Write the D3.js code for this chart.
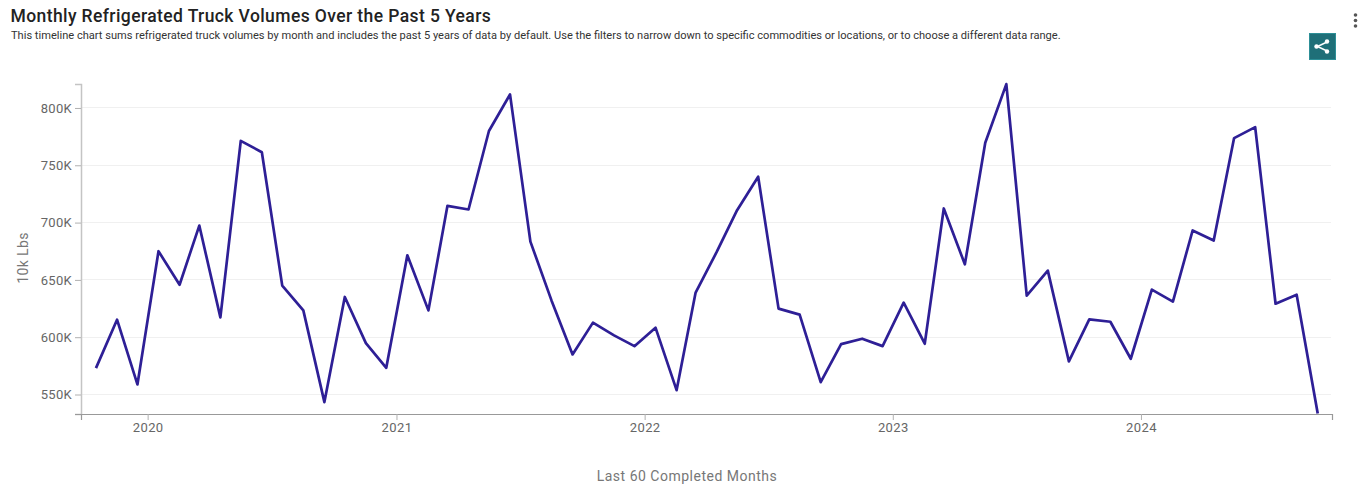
<!DOCTYPE html>
<html><head><meta charset="utf-8">
<script src="https://cdn.jsdelivr.net/npm/d3@7/dist/d3.min.js"></script>
<style>
html,body{margin:0;padding:0;background:#fff;overflow:hidden}
svg{display:block;font-family:Roboto,sans-serif}
</style></head><body>
<svg id="c" width="1370" height="495"></svg>
<script>
const titleText = "Monthly Refrigerated Truck Volumes Over the Past 5 Years";
const subtitleText = "This timeline chart sums refrigerated truck volumes by month and includes the past 5 years of data by default. Use the filters to narrow down to specific commodities or locations, or to choose a different data range.";
const yAxisLabel = "10k Lbs";
const xAxisLabel = "Last 60 Completed Months";
const firstMonth = [2019, 9]; // October 2019
const volumes = [
  573,615.3,558.8,
  675,645.8,697.4,617.3,771.3,761.4,645,623.4,543.4,635.1,594.8,573.3,
  671.5,623.4,714.6,711.4,779.9,811.8,683.4,632.1,585,612.7,601.6,592.2,
  608.3,553.8,638.9,674.4,710.8,740,624.9,619.7,560.8,594,598.7,592.2,
  630.1,594.3,712.3,663.6,769.6,820.8,636.2,658.1,578.9,615.5,613.5,581.2,
  641.5,631,693.1,684.3,773.7,783.3,629.2,637.1,533.4
].map(v => v * 1000);
const yTicks = [550000,600000,650000,700000,750000,800000];
const xTicks = [2020,2021,2022,2023,2024];

const svg = d3.select("#c");
const L = 81, R = 1332, T = 84, B = 414;
const points = volumes.map((v,i) => ({date:new Date(Date.UTC(firstMonth[0], firstMonth[1]+i, 17)), v}));
const x = d3.scaleUtc().domain([Date.UTC(2019,8,25), Date.UTC(2024,9,8)]).range([L,R]);
const y = d3.scaleLinear().domain([533000,820900]).range([B,T]);
const yFmt = d => (d/1000)+"K";

// gridlines
svg.append("g").selectAll("line").data(yTicks).join("line")
  .attr("x1",L).attr("x2",R-1).attr("y1",d=>Math.floor(y(d))+.5).attr("y2",d=>Math.floor(y(d))+.5)
  .attr("stroke","#f0f0f0").attr("stroke-width",1);

// y axis
const gy = svg.append("g").attr("transform",`translate(${L},0)`)
  .call(d3.axisLeft(y).tickValues(yTicks).tickFormat(yFmt).tickSize(6).tickPadding(3));
gy.select(".domain").attr("stroke","#c4c4c4").attr("stroke-width",1.5);
gy.selectAll(".tick line").attr("stroke","#b0b0b0");
gy.selectAll("text").attr("fill","#666").style("font-size","13px").style("letter-spacing","0.3px").style("font-family","Roboto");

// x axis
const gx = svg.append("g").attr("transform",`translate(0,${B})`)
  .call(d3.axisBottom(x).tickValues(xTicks.map(yr=>new Date(Date.UTC(yr,0,1)))).tickFormat(d3.utcFormat("%Y")).tickSize(6).tickPadding(3));
gx.select(".domain").attr("stroke","#999").attr("stroke-width",1.2);
gx.selectAll(".tick line").attr("stroke","#b0b0b0");
gx.selectAll("text").attr("fill","#666").style("font-size","13px").style("letter-spacing","0.4px").style("font-family","Roboto");
svg.append("line").attr("x1",L-6).attr("x2",L).attr("y1",B+.5).attr("y2",B+.5).attr("stroke","#999");

// line
svg.append("path").datum(points)
  .attr("fill","none").attr("stroke","#2e1f96").attr("stroke-width",2.7).attr("stroke-linejoin","round")
  .attr("d",d3.line().x(d=>x(d.date)).y(d=>y(d.v)));

// titles
svg.append("text").attr("x",10.5).attr("y",22).text(titleText)
  .attr("fill","#222").style("font-size","17.5px").style("font-weight",500).style("letter-spacing","0.4px");
svg.append("text").attr("x",11).attr("y",38.5).text(subtitleText)
  .attr("fill","#333").style("font-size","11.08px");

// axis labels
svg.append("text").attr("transform","translate(28,258) rotate(-90)").attr("text-anchor","middle").text(yAxisLabel)
  .attr("fill","#777").style("font-size","14px").style("letter-spacing","0.4px");
svg.append("text").attr("x",687).attr("y",481).attr("text-anchor","middle").text(xAxisLabel)
  .attr("fill","#777").style("font-size","14px").style("letter-spacing","0.5px");

// menu dots
svg.append("g").selectAll("circle").data([15,20.5,26]).join("circle")
  .attr("cx",1355.5).attr("cy",d=>d).attr("r",1.8).attr("fill","#555");

// share button
const b = svg.append("g").attr("transform","translate(1309,33)");
b.append("rect").attr("x",.5).attr("y",.5).attr("width",26).attr("height",26).attr("fill","#1f6f78").attr("stroke","#2d8f97");
b.append("path").attr("d","M18 9 L8.5 13.5 L18 18").attr("fill","none").attr("stroke","#fff").attr("stroke-width",1.5);
b.selectAll("circle").data([[18,8.5],[7.5,13.5],[18,18.5]]).join("circle")
  .attr("cx",d=>d[0]).attr("cy",d=>d[1]).attr("r",2.2).attr("fill","#fff");
</script>
</body></html>
